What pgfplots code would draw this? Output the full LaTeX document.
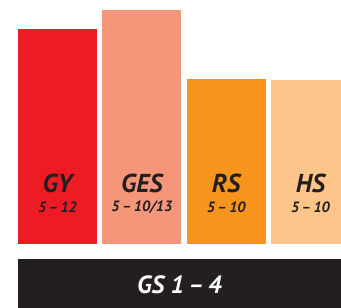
\documentclass[border=0pt]{standalone}
\usepackage{pgfplots}
\pgfplotsset{compat=1.18}
\usepackage{fontspec}
\setmainfont{PT Sans}
\definecolor{cGY}{HTML}{ED1C24}
\definecolor{cGES}{HTML}{F5967A}
\definecolor{cRS}{HTML}{F7941E}
\definecolor{cHS}{HTML}{FDC589}
\definecolor{dark}{HTML}{231F20}
\tikzset{
  big/.style={text=dark, font=\fontsize{26}{30}\selectfont\bfseries\itshape},
  small/.style={text=dark, font=\fontsize{15}{18}\selectfont\bfseries\itshape},
}
\begin{document}
\begin{tikzpicture}[x=1bp,y=1bp]
\path[use as bounding box] (0,0) rectangle (341,308);
\begin{axis}[
  at={(18bp,64bp)}, anchor=south west,
  scale only axis, width=323bp, height=244bp,
  xmin=-0.4685, xmax=3.362, ymin=0, ymax=244,
  axis lines=none, ticks=none,
  ybar, bar width=0.937, bar shift=0pt,
]
\addplot[fill=cGY, draw=none] coordinates {(0,215)};
\addplot[fill=cGES, draw=none] coordinates {(1,234)};
\addplot[fill=cRS, draw=none] coordinates {(2,165)};
\addplot[fill=cHS, draw=none] coordinates {(3,164)};
\node[big] at (axis cs:0,61) {GY};
\node[big] at (axis cs:1,61) {GES};
\node[big] at (axis cs:2,61) {RS};
\node[big] at (axis cs:3,61) {HS};
\node[small] at (axis cs:0,37) {5\,–\,12};
\node[small] at (axis cs:1,37) {5\,–\,10/13};
\node[small] at (axis cs:2,37) {5\,–\,10};
\node[small] at (axis cs:3,37) {5\,–\,10};
\end{axis}
\fill[dark] (18,0) rectangle (341,49);
\node[text=white, font=\fontsize{25}{30}\selectfont\bfseries\itshape] at (179.5,23) {GS 1\,–\,4};
\end{tikzpicture}
\end{document}
